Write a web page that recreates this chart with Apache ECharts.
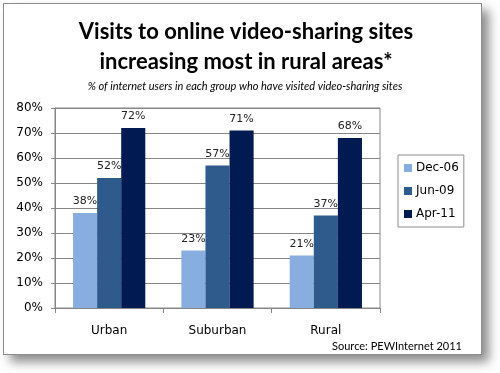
<!DOCTYPE html>
<html><head><meta charset="utf-8">
<script src="https://cdn.jsdelivr.net/npm/echarts@6/dist/echarts.min.js"></script>
<style>
html,body{margin:0;padding:0;background:#fff;width:500px;height:373px;overflow:hidden;}
#frame{position:absolute;left:3px;top:3px;width:477px;height:350px;border:1px solid #8c8c8c;background:#fff;box-shadow:7px 7px 10px rgba(0,0,0,0.45);}
#chart{position:absolute;left:0;top:0;width:500px;height:373px;}
</style></head>
<body>
<div id="frame"></div>
<div id="chart"></div>
<script>
var categories = ['Urban', 'Suburban', 'Rural'];
var seriesNames = ['Dec-06', 'Jun-09', 'Apr-11'];
var dec06 = [38, 23, 21];
var jun09 = [52, 57, 37];
var apr11 = [72, 71, 68];
var colors = ['#88AEE0', '#2F5A8C', '#021A52'];

var chart = echarts.init(document.getElementById('chart'), null, {renderer: 'canvas'});
var labelStyle = {show: true, position: 'top', distance: 6, formatter: '{c}%', color: '#222', fontFamily: 'DejaVu Sans', fontSize: 11};
function mk(name, data, color) {
  return {name: name, type: 'bar', data: data, itemStyle: {color: color}, barGap: '0%', barCategoryGap: '33.3%', label: labelStyle};
}
chart.setOption({
  animation: false,
  backgroundColor: 'transparent',
  title: [
    {text: 'Visits to online video-sharing sites\nincreasing most in rural areas*', left: 241, textAlign: 'center', top: 12,
     textStyle: {fontFamily: 'Lato', fontWeight: 'bold', fontSize: 22, lineHeight: 30, color: '#000'}},
    {text: '% of internet users in each group who have visited video-sharing sites', left: 240, textAlign: 'center', top: 76,
     textStyle: {fontFamily: 'Lato', fontStyle: 'italic', fontWeight: 'normal', fontSize: 11, color: '#000'}},
    {text: 'Source: PEWInternet 2011', right: 33, top: 336,
     textStyle: {fontFamily: 'Lato', fontWeight: 'normal', fontSize: 11, color: '#000'}}
  ],
  legend: {
    data: seriesNames, orient: 'vertical', left: 398, top: 155, icon: 'rect', itemWidth: 8, itemHeight: 8,
    itemGap: 11, padding: [7, 5, 7, 6], borderColor: '#8c8c8c', borderWidth: 1,
    textStyle: {fontFamily: 'DejaVu Sans', fontSize: 12, color: '#000', padding: [0, 0, 0, -1]}
  },
  grid: {left: 55, top: 108, width: 325, height: 200, show: true, borderColor: '#868686', borderWidth: 1, containLabel: false},
  xAxis: {
    type: 'category', data: categories,
    axisLine: {lineStyle: {color: '#868686'}},
    axisTick: {show: true, length: 5, lineStyle: {color: '#868686'}},
    axisLabel: {fontFamily: 'DejaVu Sans', fontSize: 12, color: '#000', margin: 17}
  },
  yAxis: {
    type: 'value', min: 0, max: 80, interval: 10,
    axisLine: {show: true, lineStyle: {color: '#868686'}},
    axisTick: {show: true, length: 4, lineStyle: {color: '#868686'}},
    splitLine: {lineStyle: {color: '#868686'}},
    axisLabel: {formatter: '{value}%', fontFamily: 'DejaVu Sans', fontSize: 12, color: '#000', margin: 12}
  },
  series: [mk(seriesNames[0], dec06, colors[0]), mk(seriesNames[1], jun09, colors[1]), mk(seriesNames[2], apr11, colors[2])]
});
</script>
</body></html>
